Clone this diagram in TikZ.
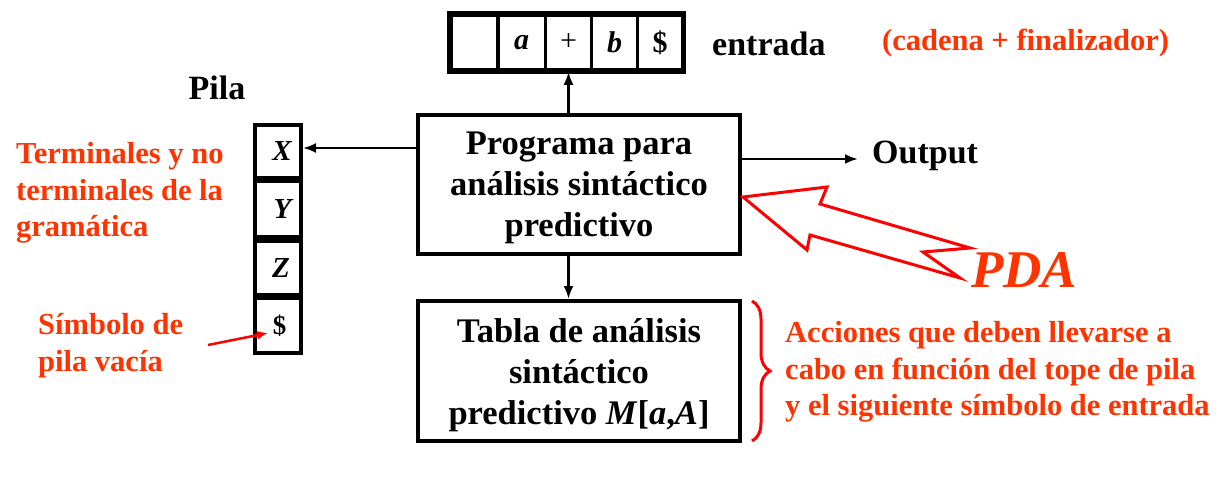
\documentclass[tikz,border=0pt]{standalone}
\usepackage{fontspec}
\setmainfont{Liberation Serif}
\usetikzlibrary{arrows.meta,decorations.pathreplacing}
\definecolor{txtred}{RGB}{255,51,0}
\definecolor{linered}{RGB}{255,0,0}
\begin{document}
\begin{tikzpicture}[x=1pt,y=-1pt,
  bigbox/.style={draw, line width=4pt, minimum width=322pt, inner sep=0pt, align=center,
    font=\bfseries\fontsize{34.5}{41}\selectfont},
  cell/.style={draw, line width=4pt, minimum width=46pt, inner sep=0pt,
    font=\bfseries\itshape\fontsize{29}{29}\selectfont},
  tcell/.style={draw, line width=3.5pt, minimum height=55pt, inner sep=0pt,
    font=\fontsize{30}{30}\selectfont},
  lbl/.style={inner sep=0pt, font=\bfseries\fontsize{34}{41}\selectfont},
  rlbl/.style={inner sep=0pt, align=left, text=txtred, font=\bfseries\fontsize{30.5}{36.8}\selectfont},
  arr/.style={line width=2.5pt, -{Latex[length=13pt,width=10pt]}},
  redarr/.style={linered, line width=2.5pt, -{Latex[length=11pt,width=9pt]}}]
\useasboundingbox (0,0) rectangle (1232,479);

% main boxes
\node[bigbox, minimum height=139pt] (prog) at (579,184.5)
  {\raisebox{-3pt}[\height][\depth]{\parbox{320pt}{\centering Programa para\\análisis sintáctico\\predictivo}}};
\node[bigbox, minimum height=140pt] (tabla) at (579,371)
  {\raisebox{-4pt}[\height][\depth]{\parbox{320pt}{\centering Tabla de análisis\\sintáctico\\predictivo \textit{M}[\textit{a},\textit{A}]}}};

% input tape
\node[tcell, minimum width=47pt] (t0) at (474.5,42.5) {};
\node[tcell, minimum width=48pt] (t1) at (521.5,42.5) {\bfseries\itshape a};
\node[tcell, minimum width=46pt] (t2) at (568.5,42.5) {+};
\node[tcell, minimum width=46pt] (t3) at (614.5,42.5) {\bfseries\itshape b};
\node[tcell, minimum width=45pt] (t4) at (660,42.5) {\bfseries\$};
\draw[line width=4pt] (t0.north west) rectangle (t4.south east);

% stack
\node[cell, minimum height=53pt] (sX) at (278,151.5) {\hspace*{8pt}X};
\node[cell, minimum height=56pt] (sY) at (278,209) {\hspace*{9pt}Y};
\node[cell, minimum height=54pt] (sZ) at (278,268) {\hspace*{6pt}Z};
\node[cell, minimum height=55pt] (sD) at (278,325.5) {\hspace*{3pt}\upshape\fontsize{27}{27}\selectfont\$};

% labels
\node[lbl] (pila) at (217,88) {Pila};
\node[lbl, anchor=base west] (entrada) at (712,55) {entrada};
\node[lbl, anchor=base west] (output) at (872,163) {Output};
\node[inner sep=0pt, anchor=base west, text=txtred, font=\bfseries\fontsize{30.5}{30}\selectfont] (cad) at (882,50) {(cadena + finalizador)};
\node[rlbl, anchor=north west] (term) at (16,142) {Terminales y no\\terminales de la\\gramática};
\node[rlbl, anchor=north west] (simb) at (38,313) {Símbolo de\\pila vacía};
\node[rlbl, anchor=north west] (acc) at (785,321) {Acciones que deben llevarse a\\cabo en función del tope de pila\\y el siguiente símbolo de entrada};
\node[inner sep=0pt, anchor=base, text=txtred, font=\bfseries\itshape\fontsize{53}{53}\selectfont] (pda) at (1024,287) {PDA};

% connectors
\draw[arr] (prog.north -| t2.south) -- (t2.south);
\draw[arr] (prog.south -| t2.south) -- (tabla.north -| t2.south);
\draw[arr] (prog.west |- 0,148) -- (sX.east |- 0,148);
\coordinate (outend) at (858,159);
\draw[arr] (prog.east |- outend) -- (outend);

\coordinate (vacstart) at (208,345);
\coordinate (vactip) at (268,333);
\draw[redarr] (vacstart) -- (vactip);

% PDA hollow lightning arrow
\coordinate (pdatip) at (743,197);
\draw[linered, line width=3pt, line join=miter]
  (pdatip) -- (827,187) -- (820,204) -- (970,248) -- (923,252) -- (960,278)
  -- (810,235) -- (807,250) -- cycle;

% brace
\draw[linered, line width=3pt, decorate, decoration={brace, amplitude=18pt, aspect=0.5}]
  (752,301) -- (752,441);
\end{tikzpicture}
\end{document}
